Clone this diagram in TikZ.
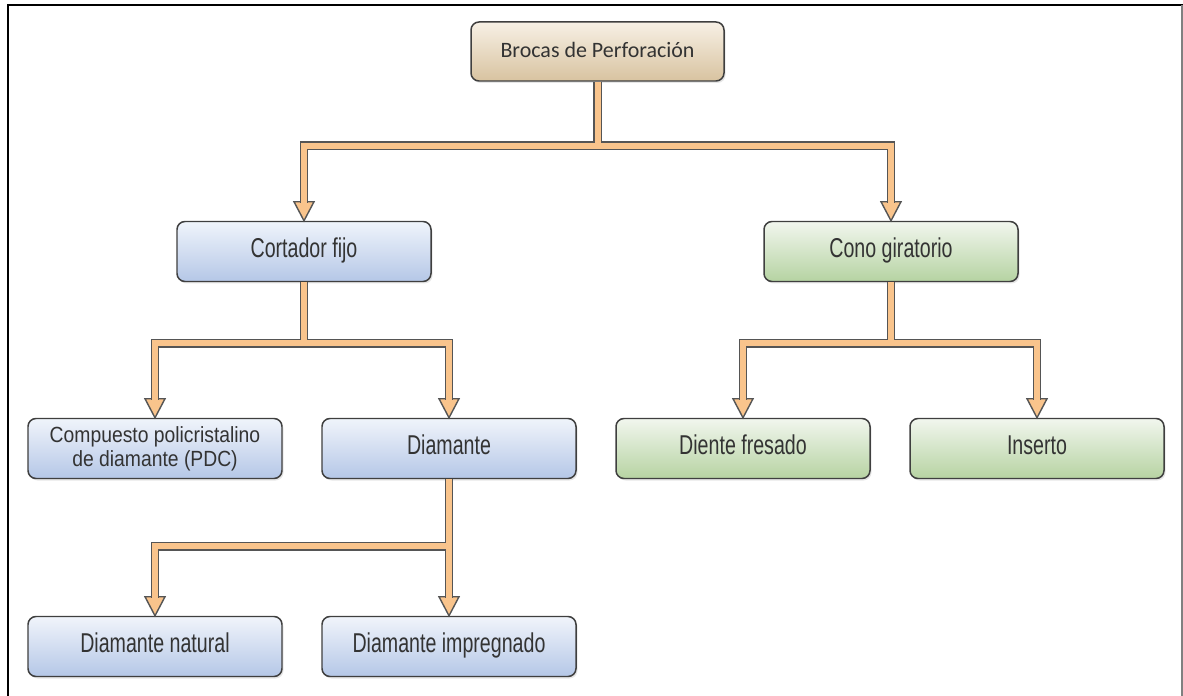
\documentclass[tikz,border=0pt]{standalone}
\usepackage{fontspec}
\setmainfont{Liberation Sans}
\newfontfamily\calfont{Carlito}
\newfontfamily\narrowfont[FakeStretch=0.72]{Liberation Sans}
\newfontfamily\pdcfont[FakeStretch=0.88]{Liberation Sans}
\usetikzlibrary{positioning, shadows}
\definecolor{boxline}{HTML}{3F3F3F}
\definecolor{txtgray}{HTML}{333333}
\definecolor{bluetop}{HTML}{F0F4FB}
\definecolor{bluebot}{HTML}{B4C7E7}
\definecolor{greentop}{HTML}{F2F6EE}
\definecolor{greenbot}{HTML}{B6D3A2}
\definecolor{tantop}{HTML}{F7F0E5}
\definecolor{tanbot}{HTML}{D8C3A0}
\definecolor{connfill}{HTML}{F9C48C}
\definecolor{connline}{HTML}{555555}
\tikzset{
  box/.style={rectangle, rounded corners=0.16cm, minimum width=5.08cm, minimum height=1.2cm,
    text centered, draw=boxline, line width=0.85pt, text=txtgray,
    text height=0.716em, text depth=0pt,
    drop shadow={shadow xshift=0.03cm, shadow yshift=-0.04cm, opacity=0.2}},
  topbox/.style={box, minimum width=5.06cm, minimum height=1.18cm, top color=tantop, bottom color=tanbot,
    text height=0.644em, font=\calfont\fontsize{12.5}{14}\selectfont},
  bluebox/.style={box, top color=bluetop, bottom color=bluebot,
    font=\narrowfont\fontsize{15.5}{16}\selectfont},
  greenbox/.style={box, top color=greentop, bottom color=greenbot,
    font=\narrowfont\fontsize{15.5}{16}\selectfont},
  conn/.style={draw=connline, line width=0.8pt, double=connfill, double distance=0.12cm},
  tip/.style={draw=connline, fill=connfill, line width=0.8pt, line join=miter}
}
\begin{document}
\begin{tikzpicture}[on grid]
\useasboundingbox (0,0) rectangle (23.66,-13.92);
% frame
\draw[line width=0.05cm] (0.16,-13.92) -- (0.16,-0.1) -- (23.66,-0.1);
\draw[gray, line width=0.03cm] (23.64,-0.1) -- (23.64,-13.92);

% boxes
\node (brocas) [topbox] at (11.95,-1.03) {Brocas de Perforación};
\node (cortador) [bluebox, below left=4cm and 5.87cm of brocas] {Cortador fijo};
\node (cono) [greenbox, below right=4cm and 5.87cm of brocas] {Cono giratorio};
\node (pdc) [bluebox, below left=3.94cm and 2.98cm of cortador, align=center,
  text height=, text depth=, font=\pdcfont\fontsize{12.5}{13.5}\selectfont] {Compuesto policristalino\\de diamante (PDC)};
\node (diamante) [bluebox, below right=3.94cm and 2.9cm of cortador] {Diamante};
\node (fresado) [greenbox, below left=3.94cm and 2.96cm of cono] {Diente fresado};
\node (inserto) [greenbox, below right=3.94cm and 2.92cm of cono] {Inserto};
\node (natural) [bluebox, below=3.96cm of pdc] {Diamante natural};
\node (impregnado) [bluebox, below=3.96cm of diamante] {Diamante impregnado};

% arrow tips
\foreach \n in {cortador, cono, pdc, diamante, fresado, inserto, natural, impregnado}
  \draw[tip] (\n.north) -- ++(-0.2,0.38) -- ++(0.4,0) -- cycle;

% connectors
\coordinate (j1) at ([yshift=-1.28cm]brocas.south);
\coordinate (j2) at ([yshift=-1.22cm]cortador.south);
\coordinate (j3) at ([yshift=-1.22cm]cono.south);
\coordinate (j4) at ([yshift=-1.34cm]diamante.south);
\draw[conn] (brocas.south) -- (j1) -| ([yshift=0.36cm]cortador.north)
  (j1) -| ([yshift=0.36cm]cono.north);
\draw[conn] (cortador.south) -- (j2) -| ([yshift=0.36cm]pdc.north)
  (j2) -| ([yshift=0.36cm]diamante.north);
\draw[conn] (cono.south) -- (j3) -| ([yshift=0.36cm]fresado.north)
  (j3) -| ([yshift=0.36cm]inserto.north);
\draw[conn] (diamante.south) -- ([yshift=0.36cm]impregnado.north)
  (j4) -| ([yshift=0.36cm]natural.north);
\end{tikzpicture}
\end{document}
